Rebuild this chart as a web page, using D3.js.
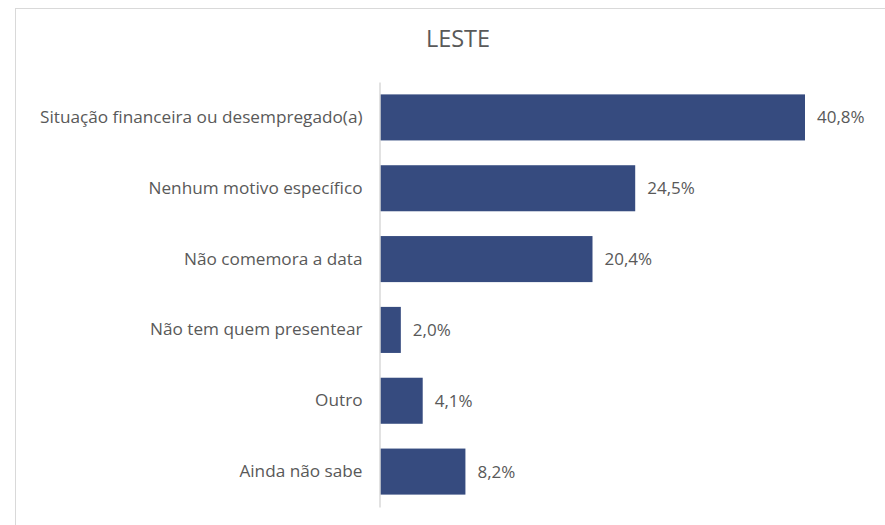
<!DOCTYPE html>
<html lang="pt">
	<head>
		<meta charset="utf-8">
		<title>LESTE</title>
		<script src="https://cdn.jsdelivr.net/npm/d3@7/dist/d3.min.js"></script>
		<style>
		body{
			margin: 0;
			background-color: #ffffff;
		}
		svg{
			display: block;
		}
		</style>
	</head>
	<body>
		<div id="chart"></div>
		<script>

			// data
			var categories = [
				"Situação financeira ou desempregado(a)",
				"Nenhum motivo específico",
				"Não comemora a data",
				"Não tem quem presentear",
				"Outro",
				"Ainda não sabe"
			];
			var values = [40.8, 24.5, 20.4, 2.0, 4.1, 8.2];
			var valueLabels = ["40,8%", "24,5%", "20,4%", "2,0%", "4,1%", "8,2%"];
			var title = "LESTE";

			var w = 885;
			var h = 525;
			var font = "'Open Sans', sans-serif";
			var textColor = "#595959";
			var barColor = "#364b7f";

			var svg = d3.select("#chart")
						.append("svg")
						.attr("width", w)
						.attr("height", h);

			// chart area border (runs off the right and bottom edge)
			svg.append("rect")
			   .attr("x", 15.5)
			   .attr("y", 8.5)
			   .attr("width", w + 20)
			   .attr("height", h + 20)
			   .attr("fill", "#ffffff")
			   .attr("stroke", "#d9d9d9")
			   .attr("stroke-width", 1);

			// title
			svg.append("text")
			   .attr("x", 458)
			   .attr("y", 47)
			   .attr("text-anchor", "middle")
			   .attr("font-family", font)
			   .attr("font-size", "23.5px")
			   .attr("fill", textColor)
			   .text(title);

			// scales
			var x = d3.scaleLinear()
					  .domain([0, 45])
					  .range([380, 380 + 45 * (425 / 40.8)]);

			var y = d3.scaleBand()
					  .domain(categories)
					  .range([82, 507])
					  .paddingInner(0.35)
					  .paddingOuter(0.175);

			// bars
			svg.selectAll("rect.bar")
			   .data(values)
			   .enter()
			   .append("rect")
			   .attr("class", "bar")
			   .attr("x", x(0))
			   .attr("y", function(d, i) { return y(categories[i]); })
			   .attr("width", function(d) { return x(d) - x(0); })
			   .attr("height", y.bandwidth())
			   .attr("fill", barColor);

			// vertical axis line
			var yAxis = d3.axisLeft(y).tickSize(0).tickPadding(17);
			var gAxis = svg.append("g")
						   .attr("transform", "translate(" + (x(0) - 0.5) + ",0)")
						   .call(yAxis);
			gAxis.select(".domain")
				 .attr("stroke", "#d9d9d9")
				 .attr("stroke-width", 1.5);
			gAxis.selectAll("text")
				 .attr("font-family", font)
				 .attr("font-size", "17.2px")
				 .attr("fill", textColor);

			// value labels
			svg.selectAll("text.val")
			   .data(values)
			   .enter()
			   .append("text")
			   .attr("class", "val")
			   .attr("x", function(d) { return x(d) + 12; })
			   .attr("y", function(d, i) { return y(categories[i]) + y.bandwidth() / 2; })
			   .attr("dy", "0.35em")
			   .attr("font-family", font)
			   .attr("font-size", "17px")
			   .attr("fill", textColor)
			   .text(function(d, i) { return valueLabels[i]; });

		</script>
	</body>
</html>
